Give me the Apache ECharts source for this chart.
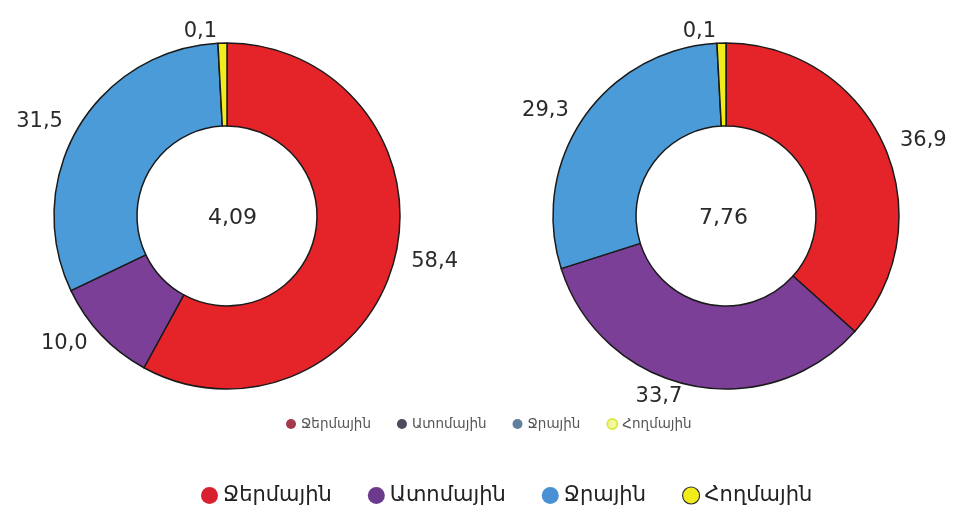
<!DOCTYPE html>
<html>
<head>
<meta charset="utf-8">
<script src="https://cdn.jsdelivr.net/npm/echarts@6/dist/echarts.min.js"></script>
<style>
  html, body { margin: 0; padding: 0; background: #fff; }
  #chart { width: 955px; height: 508px; }
</style>
</head>
<body>
<div id="chart"></div>
<script>
// data
const categories = ["Ջերմային", "Ատոմային", "Ջրային", "Հողմային"];
const leftValues = [58.4, 10.0, 31.5, 0.1];
const rightValues = [36.9, 33.7, 29.3, 0.1];
const totals = ["4,09", "7,76"];

const sliceColors = ["#e52429", "#7b3f98", "#4b9bd9", "#f2ec1a"];
const smallLegendColors = ["#a33a4a", "#4b4b60", "#5f7f9c", "#d8ea4a"];
const bigLegendColors = ["#d8202f", "#6c3a8c", "#4a90d4", "#f2ec1a"];

const myChart = echarts.init(document.getElementById("chart"));

function fmt(v) {
  return v.toFixed(1).replace(".", ",");
}

function donut(center, values) {
  return {
    type: "pie",
    center: center,
    radius: [90, 173],
    startAngle: 90,
    clockwise: true,
    minAngle: 3,
    avoidLabelOverlap: false,
    itemStyle: { borderColor: "#1a1a1a", borderWidth: 1.5 },
    label: {
      show: true,
      position: "outside",
      formatter: (p) => fmt(p.value),
      fontFamily: "DejaVu Sans",
      fontSize: 21,
      color: "#2a2a2a"
    },
    labelLine: { show: false, length: 12, length2: 0 },
    emphasis: { scale: false },
    data: categories.map((c, i) => ({
      name: c,
      value: values[i],
      itemStyle: { color: sliceColors[i] }
    }))
  };
}

const option = {
  backgroundColor: "#fff",
  animation: false,
  legend: [
    {
      top: 412,
      left: 281,
      icon: "circle",
      itemWidth: 10,
      itemHeight: 10,
      itemGap: 26,
      textStyle: { fontFamily: "DejaVu Sans", fontSize: 13.5, color: "#555" },
      data: categories.map((c, i) => ({
        name: c,
        itemStyle: i === 3
          ? { color: "#f4f6a0", borderColor: smallLegendColors[i], borderWidth: 2 }
          : { color: smallLegendColors[i], borderWidth: 0 }
      }))
    },
    {
      top: 480,
      left: 196,
      icon: "circle",
      itemWidth: 17,
      itemHeight: 17,
      itemGap: 36,
      textStyle: { fontFamily: "DejaVu Sans", fontSize: 21, color: "#222" },
      data: categories.map((c, i) => ({
        name: c,
        itemStyle: i === 3
          ? { color: bigLegendColors[i], borderColor: "#333", borderWidth: 1.2 }
          : { color: bigLegendColors[i], borderWidth: 0 }
      }))
    }
  ],
  graphic: [
    {
      type: "text",
      left: 208,
      top: 207,
      style: {
        text: totals[0],
        font: "22px DejaVu Sans",
        fill: "#2a2a2a"
      }
    },
    {
      type: "text",
      left: 699,
      top: 207,
      style: {
        text: totals[1],
        font: "22px DejaVu Sans",
        fill: "#2a2a2a"
      }
    }
  ],
  series: [donut([227, 216], leftValues), donut([726, 216], rightValues)]
};

myChart.setOption(option);
</script>
</body>
</html>
